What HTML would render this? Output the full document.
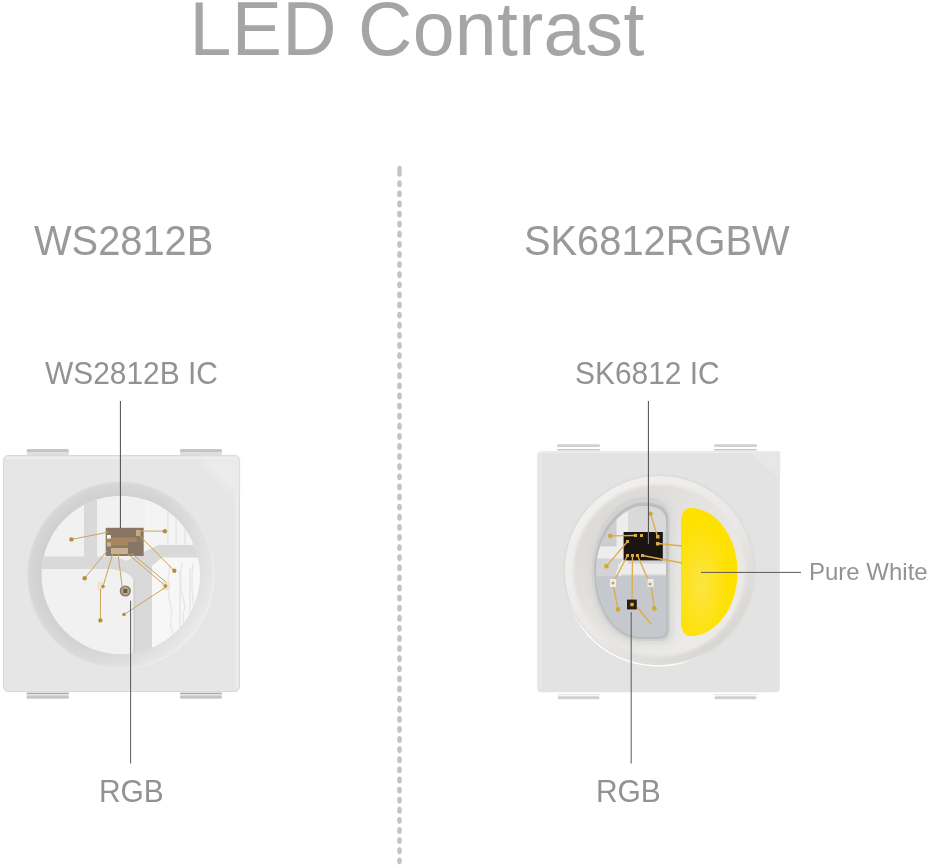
<!DOCTYPE html>
<html><head><meta charset="utf-8">
<style>
html,body{margin:0;padding:0;background:#fff;}
body{width:929px;height:867px;overflow:hidden;position:relative;font-family:"Liberation Sans",sans-serif;}
svg{position:absolute;left:0;top:0;}
text{font-family:"Liberation Sans",sans-serif;}
</style></head><body>
<svg width="929" height="867" viewBox="0 0 929 867">
<defs>
  <linearGradient id="tab" x1="0" y1="0" x2="0" y2="1">
    <stop offset="0" stop-color="#cfcfcf"/><stop offset="1" stop-color="#bdbdbd"/>
  </linearGradient>
  <linearGradient id="ringL" x1="0" y1="0" x2="1" y2="1">
    <stop offset="0" stop-color="#cfcfcf"/><stop offset="1" stop-color="#dcdcdc"/>
  </linearGradient>
  <radialGradient id="yel" cx="0.35" cy="0.6" r="0.5">
    <stop offset="0" stop-color="#fce443"/><stop offset="1" stop-color="#fee100"/>
  </radialGradient>
  <linearGradient id="tabB" x1="0" y1="0" x2="0" y2="1">
    <stop offset="0" stop-color="#d4d4d4"/><stop offset="1" stop-color="#c2c2c2"/>
  </linearGradient>
  <linearGradient id="ringR" x1="0.15" y1="0.1" x2="0.85" y2="0.95">
    <stop offset="0" stop-color="#f1f0ee"/><stop offset="0.55" stop-color="#e9e8e6"/><stop offset="1" stop-color="#d5d4d0"/>
  </linearGradient>
  <linearGradient id="bowlR" x1="0.1" y1="0.1" x2="0.9" y2="0.9">
    <stop offset="0" stop-color="#dcdad6"/><stop offset="0.5" stop-color="#e5e4e1"/><stop offset="1" stop-color="#edece9"/>
  </linearGradient>
  <clipPath id="cavR"><path d="M666 522 C666 511 658 506 643 506 C622 506 596 536 596 570 C596 606 614 636 640 636.5 L657 636.5 Q666 636.5 666 628 Z"/></clipPath>
  <radialGradient id="ringLr" gradientUnits="userSpaceOnUse" cx="120.7" cy="575" r="94">
    <stop offset="0.84" stop-color="#cecece"/><stop offset="0.95" stop-color="#d4d4d4"/><stop offset="0.978" stop-color="#d7d7d7"/><stop offset="1" stop-color="#e4e4e4"/>
  </radialGradient>
  <linearGradient id="rimG" gradientUnits="userSpaceOnUse" x1="568" y1="600" x2="712" y2="649">
    <stop offset="0" stop-color="#fbfbfb" stop-opacity="0"/><stop offset="0.2" stop-color="#fcfcfc" stop-opacity="1"/><stop offset="0.8" stop-color="#fcfcfc" stop-opacity="1"/><stop offset="1" stop-color="#fbfbfb" stop-opacity="0"/>
  </linearGradient>
  <linearGradient id="ringHL" x1="0" y1="0.1" x2="1" y2="0.7">
    <stop offset="0" stop-color="#ffffff" stop-opacity="0"/><stop offset="0.55" stop-color="#ffffff" stop-opacity="0.08"/><stop offset="1" stop-color="#ffffff" stop-opacity="0.5"/>
  </linearGradient>
  <clipPath id="cavL"><circle cx="120.7" cy="575" r="79.2"/></clipPath>
  <filter id="blur05" x="-5%" y="-5%" width="110%" height="110%"><feGaussianBlur stdDeviation="0.6"/></filter>
  <filter id="blur1" x="-10%" y="-10%" width="120%" height="120%"><feGaussianBlur stdDeviation="1.5"/></filter>
  <filter id="blur2" x="-20%" y="-20%" width="140%" height="140%"><feGaussianBlur stdDeviation="3"/></filter>
</defs>

<g opacity="0.995">
<!-- Title -->
<text x="189.6" y="55.2" font-size="75.2" fill="#a5a5a5" letter-spacing="0.32">LED Contrast</text>

<!-- Divider -->
<line x1="399.5" y1="167.9" x2="399.5" y2="174.6" stroke="#c4c4c4" stroke-width="4.4" stroke-linecap="round"/>
<line x1="399.5" y1="182.65" x2="399.5" y2="870" stroke="#c4c4c4" stroke-width="4.6" stroke-linecap="round" stroke-dasharray="2.3 7.805"/>

<!-- Headings -->
<text x="34" y="254.8" font-size="42.2" fill="#999999" transform="translate(34 0) scale(0.944 1) translate(-34 0)">WS2812B</text>
<text x="524" y="254.8" font-size="42.2" fill="#999999" transform="translate(524 0) scale(0.944 1) translate(-524 0)">SK6812RGBW</text>

<!-- labels -->
<text x="45" y="383.7" font-size="31" fill="#929292" transform="translate(45 0) scale(0.965 1) translate(-45 0)">WS2812B IC</text>
<text x="575" y="383.9" font-size="31" fill="#929292" transform="translate(575 0) scale(0.965 1) translate(-575 0)">SK6812 IC</text>
<text x="99" y="802.4" font-size="31" fill="#929292" transform="translate(99 0) scale(0.965 1) translate(-99 0)">RGB</text>
<text x="596" y="802.4" font-size="31" fill="#929292" transform="translate(596 0) scale(0.965 1) translate(-596 0)">RGB</text>
<text x="809" y="579.7" font-size="24" fill="#939393">Pure White</text>
</g>

<!-- ===== Left LED ===== -->
<g>
  <rect x="26.7" y="449" width="42.2" height="6.5" rx="1.5" fill="#dedede"/>
  <rect x="26.7" y="449" width="42.2" height="3" rx="1.5" fill="#c5c5c5"/>
  <rect x="180" y="449" width="42" height="6.5" rx="1.5" fill="#dedede"/>
  <rect x="180" y="449" width="42" height="3" rx="1.5" fill="#c5c5c5"/>
  <rect x="26.5" y="692" width="42.3" height="7" rx="1.5" fill="#e6e6e6"/>
  <rect x="26.5" y="692.9" width="42.3" height="1.1" fill="#a9a9a9"/>
  <rect x="26.5" y="695.4" width="42.3" height="3.2" rx="1.5" fill="#c6c6c6"/>
  <rect x="180" y="692" width="42" height="7" rx="1.5" fill="#e6e6e6"/>
  <rect x="180" y="692.9" width="42" height="1.1" fill="#a9a9a9"/>
  <rect x="180" y="695.4" width="42" height="3.2" rx="1.5" fill="#c6c6c6"/>
  <rect x="3.5" y="455.5" width="236" height="236" rx="4.5" fill="#e6e6e6" stroke="#d9d9d9" stroke-width="1"/>
  <rect x="5" y="457.3" width="233" height="1.6" fill="#efefef"/>
  <path d="M199 458 L238 458 L238 496 Z" fill="#ececec" filter="url(#blur2)"/>
  <rect x="234.5" y="460" width="4" height="228" fill="#ebebeb" filter="url(#blur05)"/>
  <circle cx="120.7" cy="575" r="94" fill="url(#ringLr)"/>
  <path d="M214.7 575 A94 94 0 1 0 26.7 575 A94 94 0 1 0 214.7 575 Z M199.9 575 A79.2 79.2 0 1 1 41.5 575 A79.2 79.2 0 1 1 199.9 575 Z" fill-rule="evenodd" fill="url(#ringHL)"/>
  <circle cx="120.7" cy="575" r="79.2" fill="#f1f1f1"/>
  <g clip-path="url(#cavL)">
    <rect x="145" y="490" width="70" height="60" fill="#f4f4f4"/>
    <rect x="150" y="557" width="60" height="90" fill="#f7f7f7"/>
    <path d="M40 556.5 H84 V490 H97 V556.5 H110 Q120 557 126 561 L158 545 H215 V557.5 H162 L152 566 V665 H134 V580 Q128 571 112 569 H40 Z" fill="#d9d9d9"/>
    <g stroke="#e6e6e6" stroke-width="1.3" fill="none">
      <path d="M170 565 Q165 590 172 610 Q168 625 175 640"/>
      <path d="M182 562 Q178 585 185 605 Q181 620 186 638"/>
      <path d="M193 563 Q190 590 195 615"/>
    </g>
    <line x1="134" y1="578" x2="134" y2="660" stroke="#c4c4c4" stroke-width="1"/>
    <g stroke="#e2e2e2" stroke-width="1.2">
      <line x1="168" y1="500" x2="168" y2="545"/><line x1="176" y1="505" x2="176" y2="545"/>
      <line x1="185" y1="510" x2="185" y2="545"/><line x1="193" y1="515" x2="193" y2="545"/>
      <line x1="180" y1="570" x2="180" y2="630"/><line x1="190" y1="568" x2="190" y2="625"/>
    </g>
  </g>
  <!-- chip -->
  <rect x="105.7" y="527.8" width="38" height="28.2" fill="#8c7a68"/>
  <rect x="106.5" y="528.5" width="36.5" height="9" fill="#877563"/>
  <rect x="106.5" y="537.5" width="30" height="8" fill="#a7865f"/>
  <rect x="128" y="542" width="15" height="13.5" fill="#857668"/>
  <rect x="111" y="548" width="17" height="6" fill="#c8b291"/>
  <rect x="107" y="542.5" width="4" height="4" fill="#c9b394"/>
  <rect x="136" y="530" width="4.5" height="6" fill="#c4ab88"/>
  <rect x="107" y="535" width="3.8" height="3.6" fill="#fbfaf8"/>
  <!-- pads -->
  <rect x="97.5" y="582" width="6" height="8" fill="#efe4cc"/>
  <rect x="162" y="582" width="8" height="8" fill="#efe4cc"/>
  <!-- wires -->
  <g stroke="#c9a55c" stroke-width="1" fill="none">
    <line x1="109" y1="532" x2="71.4" y2="539.4"/>
    <line x1="140" y1="531" x2="164.9" y2="531.2"/>
    <line x1="139" y1="535" x2="174.3" y2="570.8"/>
    <line x1="107" y1="551" x2="84.7" y2="578.2"/>
    <line x1="113" y1="553" x2="103" y2="586.5"/>
    <line x1="118" y1="553" x2="122" y2="586"/>
    <line x1="127" y1="553" x2="165.5" y2="586"/>
    <line x1="131" y1="553" x2="166" y2="582"/>
    <line x1="166" y1="587" x2="124" y2="614.5"/>
    <line x1="100.5" y1="589" x2="100.4" y2="620.4"/>
  </g>
  <g fill="#b48f42">
    <circle cx="71.4" cy="539.4" r="2.2"/><circle cx="164.9" cy="531.2" r="2.2"/><circle cx="174.3" cy="570.8" r="2.2"/>
    <circle cx="84.7" cy="578.2" r="2.2"/><circle cx="100.4" cy="620.4" r="2.2"/><circle cx="124" cy="614.5" r="1.8"/>
    <circle cx="103" cy="586.5" r="1.8"/><circle cx="165.5" cy="586" r="1.8"/>
  </g>
  <circle cx="125.3" cy="591" r="5" fill="#b3a58c" stroke="#85765f" stroke-width="1.2"/>
  <rect x="123.3" y="589" width="4" height="4" fill="#6d5c45"/>
  <!-- leader lines -->
  <line x1="120.4" y1="401" x2="120.4" y2="528" stroke="#4a4a4a" stroke-width="1"/>
  <line x1="130.6" y1="600.8" x2="130.6" y2="763.5" stroke="#5a5a5a" stroke-width="1"/>
</g>

<!-- ===== Right LED ===== -->
<g>
  <rect x="557" y="444.3" width="43" height="2.6" rx="1.2" fill="#d0d0d0"/>
  <rect x="557" y="448.9" width="43" height="1.6" rx="0.8" fill="#c6c6c6"/>
  <rect x="714" y="444.3" width="43" height="2.6" rx="1.2" fill="#d0d0d0"/>
  <rect x="714" y="448.9" width="43" height="1.6" rx="0.8" fill="#c6c6c6"/>
  <rect x="557" y="694.2" width="43" height="1" fill="#e2e2e2"/>
  <rect x="557.5" y="696.3" width="42" height="3" rx="1.5" fill="#cfcfcf"/>
  <rect x="714" y="694.2" width="43" height="1" fill="#e2e2e2"/>
  <rect x="714.5" y="696.3" width="42" height="3" rx="1.5" fill="#cfcfcf"/>
  <path d="M542 451.3 H779.8 V688 Q779.8 692.3 775.5 692.3 H541.5 Q537.3 692.3 537.3 688 V456 Q537.3 451.3 542 451.3 Z" fill="#e3e3e3" filter="url(#blur05)"/>
  <rect x="540" y="451.5" width="238" height="1.5" fill="#ececec" filter="url(#blur05)"/>
  <rect x="539" y="453" width="3" height="236" fill="#e8e8e8" filter="url(#blur05)"/>
  <path d="M752 452.5 L779 452.5 L779 476 Z" fill="#e7e7e7" filter="url(#blur1)"/>
  <line x1="752" y1="453" x2="778" y2="476" stroke="#ededed" stroke-width="0.8" filter="url(#blur05)"/>
  <circle cx="659.3" cy="570.5" r="95" fill="#d4d4d4" filter="url(#blur1)"/>
  <circle cx="659.3" cy="570.5" r="94.5" fill="url(#ringR)"/>
  <path d="M568 600 A94.5 94.5 0 0 0 712 649" fill="none" stroke="url(#rimG)" stroke-width="1.6"/>
  <circle cx="659.3" cy="570.5" r="86" fill="url(#bowlR)" filter="url(#blur1)"/>
  <path d="M673 520 C673 502 661 494 643 494 C613 494 588.5 530 588.5 570 C588.5 612 610 644 640 644 L660 644 Q673 644 673 632 Z" fill="#d9d9d8" filter="url(#blur2)"/>
  <!-- left cavity -->
  <path d="M670 520 C670 505 660 497 643 497 C615 497 591.5 532 591.5 570 C591.5 610 612 640 640 641 L660 641 Q670 641 670 631 Z" fill="#d2d2d2"/>
  <path d="M668.5 521 C668.5 508 659 502.5 643 502.5 C619 502.5 594 534 594 570 C594 607.5 613 638.5 640 639 L658.5 639 Q668.5 639 668.5 629.5 Z" fill="#bdbec0"/>
  <g clip-path="url(#cavR)">
    <rect x="580" y="490" width="100" height="160" fill="#d2d3d5"/>
    <rect x="580" y="490" width="37" height="56" fill="#cdcdcf"/>
    <rect x="628" y="490" width="40" height="42" fill="#d9d9da"/>
    <rect x="616.5" y="505" width="11.5" height="53" fill="#ededed"/>
    <rect x="580" y="546.5" width="48" height="12" fill="#ededed"/>
    <rect x="618" y="563.5" width="52" height="11" fill="#ececec"/>
    <path d="M628 556 Q622 566 618 575" stroke="#ececec" stroke-width="6" fill="none"/>
    <rect x="580" y="576" width="90" height="70" fill="#c5c8cc"/>
  </g>
  <!-- yellow phosphor -->
  <path d="M681 524 Q681 508.5 690 508 A47.5 64 0 0 1 690 636 Q681 635.5 681 620 Z" fill="url(#yel)"/>
  <!-- chip -->
  <rect x="623.6" y="532" width="39.2" height="28.4" fill="#1b1511"/>
  <g fill="#d8ab45">
    <rect x="634" y="534" width="3" height="3"/><rect x="640" y="534" width="3" height="3"/>
    <rect x="656" y="535" width="3.5" height="3.5"/><rect x="656" y="542" width="3.5" height="3.5"/>
    <rect x="626" y="540" width="3" height="3"/>
    <rect x="626" y="554" width="3" height="3"/><rect x="631" y="554" width="3" height="3"/><rect x="636" y="554" width="3" height="3"/><rect x="641" y="554" width="3" height="3"/>
  </g>
  <g stroke="#dcae45" stroke-width="1.3" fill="none">
    <line x1="635" y1="535.5" x2="610.3" y2="535.9"/>
    <line x1="657.5" y1="536.5" x2="650.5" y2="513.7"/>
    <line x1="627.5" y1="541.5" x2="606.4" y2="566.3"/>
    <line x1="658" y1="543.5" x2="682" y2="546"/>
    <line x1="642.5" y1="555.5" x2="682" y2="563"/>
    <line x1="627.5" y1="555.5" x2="613" y2="583"/>
    <line x1="632.5" y1="555.5" x2="632" y2="604"/>
    <line x1="637.5" y1="555.5" x2="650" y2="584"/>
    <line x1="613" y1="584" x2="618" y2="609.4"/>
    <line x1="651" y1="585" x2="654.4" y2="608.4"/>
    <line x1="637" y1="607" x2="651" y2="624"/>
  </g>
  <rect x="610" y="579" width="6" height="8" fill="#eeeeee"/>
  <rect x="647.5" y="579" width="6" height="8" fill="#eeeeee"/>
  <g fill="#d3a53a">
    <circle cx="610.3" cy="535.9" r="2.3"/><circle cx="650.5" cy="513.7" r="2.3"/><circle cx="606.4" cy="566.3" r="2.3"/>
    <circle cx="618" cy="609.4" r="2.3"/><circle cx="654.4" cy="608.4" r="2.3"/>
    <circle cx="613" cy="583" r="1.6"/><circle cx="650" cy="584" r="1.6"/>
  </g>
  <rect x="627" y="599.6" width="9.8" height="9.8" fill="#2b1d12"/>
  <circle cx="632" cy="604.5" r="2" fill="#d6a93c"/>
  <!-- leader lines -->
  <line x1="648.4" y1="401" x2="648.4" y2="532" stroke="#4a4a4a" stroke-width="1"/>
  <line x1="648.4" y1="532" x2="648.4" y2="543.8" stroke="#8c8c8c" stroke-width="1"/>
  <line x1="631.2" y1="612" x2="631.2" y2="763.5" stroke="#5a5a5a" stroke-width="1"/>
  <line x1="701" y1="572.4" x2="801" y2="572.4" stroke="#5a5a5a" stroke-width="1"/>
</g>
</svg>
</body></html>
